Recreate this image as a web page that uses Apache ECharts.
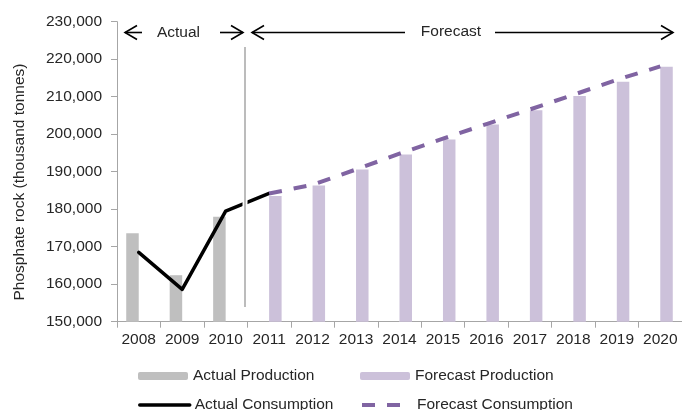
<!DOCTYPE html>
<html>
<head>
<meta charset="utf-8">
<script src="https://cdn.jsdelivr.net/npm/echarts@6/dist/echarts.min.js"></script>
<style>
html,body{margin:0;padding:0;background:#fff;}
#chart{width:682px;height:410px;}
</style>
</head>
<body>
<div id="chart"></div>
<script>
// ---- Data ----
var years = ['2008','2009','2010','2011','2012','2013','2014','2015','2016','2017','2018','2019','2020'];
var actualProduction   = [173600, 162400, 178000, null, null, null, null, null, null, null, null, null, null];
var forecastProduction = [null, null, null, 183500, 186300, 190600, 194600, 198600, 202600, 206400, 210200, 214000, 218000];
var actualConsumption  = [168500, 158600, 179500, 184200, null, null, null, null, null, null, null, null, null];
var forecastConsumption= [null, null, null, 184200, 186500, 190600, 194800, 198800, 202700, 206600, 210500, 214500, 218100];
var yTicks = [150000, 160000, 170000, 180000, 190000, 200000, 210000, 220000, 230000];

var FONT = 'Liberation Sans, Arial, sans-serif';
var TXT = '#262626';
var AXIS = '#a6a6a6';
var FS = 15.5;

var chart = echarts.init(document.getElementById('chart'), null, {renderer: 'canvas'});

function legendAt(name, left, top, extra) {
  return Object.assign({
    data: [name],
    left: left, top: top,
    itemWidth: 50, itemHeight: 8, itemGap: 0,
    padding: 0,
    textStyle: {fontFamily: FONT, fontSize: FS, color: TXT},
    selectedMode: false
  }, extra || {});
}

var option = {
  animation: false,
  backgroundColor: '#fff',
  textStyle: {fontFamily: FONT},
  grid: {left: 117, right: -3, top: 21.7, bottom: 88.3, containLabel: false},
  xAxis: {
    type: 'category',
    data: years,
    boundaryGap: true,
    axisLine: {lineStyle: {color: AXIS, width: 1}},
    axisTick: {show: true, length: 6, lineStyle: {color: AXIS}},
    axisLabel: {fontFamily: FONT, fontSize: FS, color: TXT, margin: 10, interval: 0},
    splitLine: {show: false}
  },
  yAxis: {
    type: 'value',
    min: yTicks[0], max: yTicks[yTicks.length - 1], interval: 10000,
    axisLine: {show: true, lineStyle: {color: AXIS, width: 1}},
    axisTick: {show: true, length: 6, lineStyle: {color: AXIS}},
    axisLabel: {fontFamily: FONT, fontSize: FS, color: TXT, margin: 15,
      formatter: function (v) { return v.toLocaleString('en-US'); }},
    splitLine: {show: false}
  },
  legend: [
    legendAt('Actual Production', 138, 368),
    legendAt('Forecast Production', 360, 368),
    legendAt('Actual Consumption', 138, 397, {
      itemStyle: {opacity: 0},
      lineStyle: {width: 3.5, color: '#000'}
    }),
    legendAt('Forecast Consumption', 360, 397, {
      itemStyle: {opacity: 0},
      lineStyle: {width: 4, color: '#8064a2', type: [13, 12], cap: 'butt'}
    })
  ],
  series: [
    {
      name: 'Actual Production', type: 'bar', data: actualProduction,
      barWidth: 12.5, barGap: '0%',
      itemStyle: {color: '#bfbfbf'}, z: 2
    },
    {
      name: 'Forecast Production', type: 'bar', data: forecastProduction,
      barWidth: 12.5, barGap: '0%',
      itemStyle: {color: '#ccc1da'}, z: 2
    },
    {
      name: 'Actual Consumption', type: 'line', data: actualConsumption,
      symbol: 'none', showSymbol: false, connectNulls: false,
      itemStyle: {color: '#000'},
      lineStyle: {color: '#000', width: 3.5, cap: 'round', join: 'round'},
      z: 3
    },
    {
      name: 'Forecast Consumption', type: 'line', data: forecastConsumption,
      symbol: 'none', showSymbol: false,
      itemStyle: {color: '#8064a2'},
      lineStyle: {color: '#8064a2', width: 4, type: [13, 12], cap: 'butt'},
      z: 4
    }
  ],
  graphic: [
    // y-axis title
    {type: 'text', z: 51, x: 19.5, y: 182, rotation: Math.PI / 2,
      style: {text: 'Phosphate rock (thousand tonnes)', font: FS + 'px ' + FONT, fill: TXT, textAlign: 'center', textVerticalAlign: 'middle'}},
    // divider between actual and forecast
    {type: 'line', z: 50, shape: {x1: 245, y1: 47, x2: 245, y2: 307}, style: {stroke: '#fff', lineWidth: 5}},
    {type: 'line', z: 51, shape: {x1: 245, y1: 47, x2: 245, y2: 307}, style: {stroke: AXIS, lineWidth: 1.5}},
    // Actual arrows
    {type: 'line', z: 51, shape: {x1: 125, y1: 32.5, x2: 142, y2: 32.5}, style: {stroke: '#000', lineWidth: 1.6}},
    {type: 'polyline', z: 51, shape: {points: [[137, 25.5], [125, 32.5], [137, 39.5]]}, style: {stroke: '#000', lineWidth: 1.6, fill: null}},
    {type: 'text', z: 51, x: 178.5, y: 33, style: {text: 'Actual', font: FS + 'px ' + FONT, fill: TXT, textAlign: 'center', textVerticalAlign: 'middle'}},
    {type: 'line', z: 51, shape: {x1: 220, y1: 32.5, x2: 243, y2: 32.5}, style: {stroke: '#000', lineWidth: 1.6}},
    {type: 'polyline', z: 51, shape: {points: [[231, 25.5], [243, 32.5], [231, 39.5]]}, style: {stroke: '#000', lineWidth: 1.6, fill: null}},
    // Forecast arrows
    {type: 'line', z: 51, shape: {x1: 252, y1: 32.5, x2: 405, y2: 32.5}, style: {stroke: '#000', lineWidth: 1.6}},
    {type: 'polyline', z: 51, shape: {points: [[264, 25.5], [252, 32.5], [264, 39.5]]}, style: {stroke: '#000', lineWidth: 1.6, fill: null}},
    {type: 'text', z: 51, x: 451, y: 32, style: {text: 'Forecast', font: FS + 'px ' + FONT, fill: TXT, textAlign: 'center', textVerticalAlign: 'middle'}},
    {type: 'line', z: 51, shape: {x1: 495, y1: 32.5, x2: 673, y2: 32.5}, style: {stroke: '#000', lineWidth: 1.6}},
    {type: 'polyline', z: 51, shape: {points: [[661, 25.5], [673, 32.5], [661, 39.5]]}, style: {stroke: '#000', lineWidth: 1.6, fill: null}}
  ]
};

chart.setOption(option);
</script>
</body>
</html>
